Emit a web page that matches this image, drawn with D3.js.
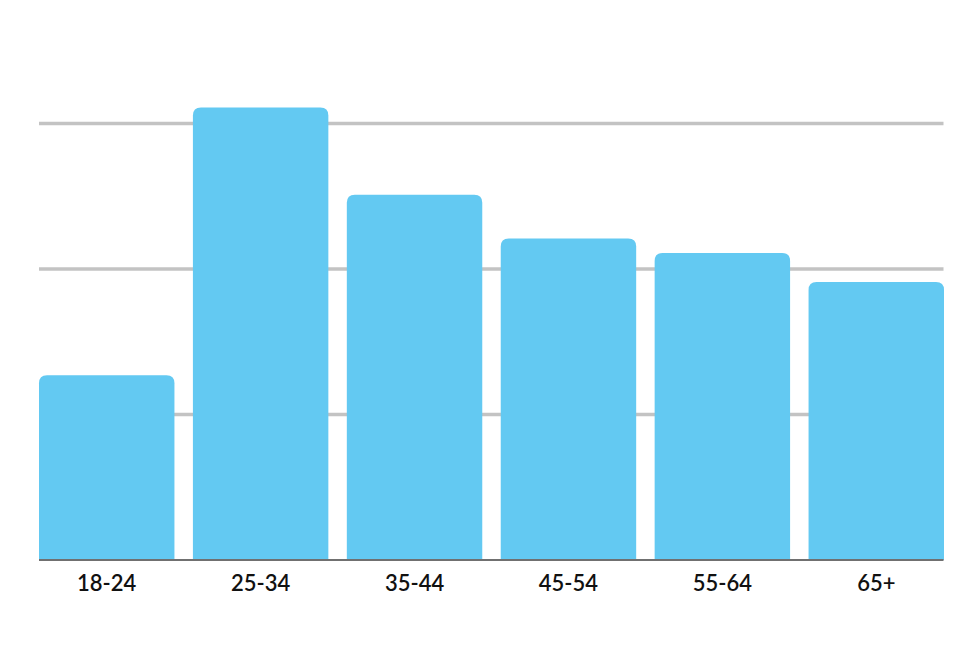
<!DOCTYPE html>
<html>
<head>
<meta charset="utf-8">
<script src="https://cdn.jsdelivr.net/npm/d3@7"></script>
<style>
  html, body { margin: 0; padding: 0; background: #ffffff; }
  svg { display: block; }
</style>
</head>
<body>
<svg id="chart" width="980" height="653"></svg>
<script>
const categories = ["18-24", "25-34", "35-44", "45-54", "55-64", "65+"];
const values = [12.7, 31.1, 25.1, 22.1, 21.1, 19.1];
const gridTicks = [10, 20, 30];

const svg = d3.select("#chart");
const left = 39, right = 944, baseY = 560, topY = 123.5;

const x = d3.scaleBand().domain(categories).range([left, right]).paddingInner(0.12).paddingOuter(0);
const y = d3.scaleLinear().domain([0, 30]).range([baseY, topY]);

// gridlines
svg.append("g").selectAll("line").data(gridTicks).join("line")
  .attr("x1", left).attr("x2", right - 0.5)
  .attr("y1", d => y(d)).attr("y2", d => y(d))
  .attr("stroke", "#c3c3c3").attr("stroke-width", 3.5);

// bars with rounded top corners
const r = 8;
function barPath(x0, w, yTop, yBot) {
  return `M${x0},${yBot} L${x0},${yTop + r} Q${x0},${yTop} ${x0 + r},${yTop} L${x0 + w - r},${yTop} Q${x0 + w},${yTop} ${x0 + w},${yTop + r} L${x0 + w},${yBot} Z`;
}
svg.append("g").selectAll("path").data(categories).join("path")
  .attr("d", (c, i) => barPath(x(c), x.bandwidth(), y(values[i]), y(0)))
  .attr("fill", "#63c9f2");

// baseline
svg.append("line")
  .attr("x1", left).attr("x2", right - 0.5)
  .attr("y1", y(0)).attr("y2", y(0))
  .attr("stroke", "#707070").attr("stroke-width", 2);

// category axis labels
const xAxis = d3.axisBottom(x).tickSize(0).tickPadding(0);
const gx = svg.append("g").attr("transform", `translate(0, ${baseY})`).call(xAxis);
gx.select(".domain").remove();
gx.selectAll("text")
  .attr("y", 31).attr("dy", 0)
  .attr("font-family", "Lato, 'Noto Sans', sans-serif")
  .attr("font-size", 22)
  .attr("font-weight", 600)
  .attr("fill", "#111111");
</script>
</body>
</html>
